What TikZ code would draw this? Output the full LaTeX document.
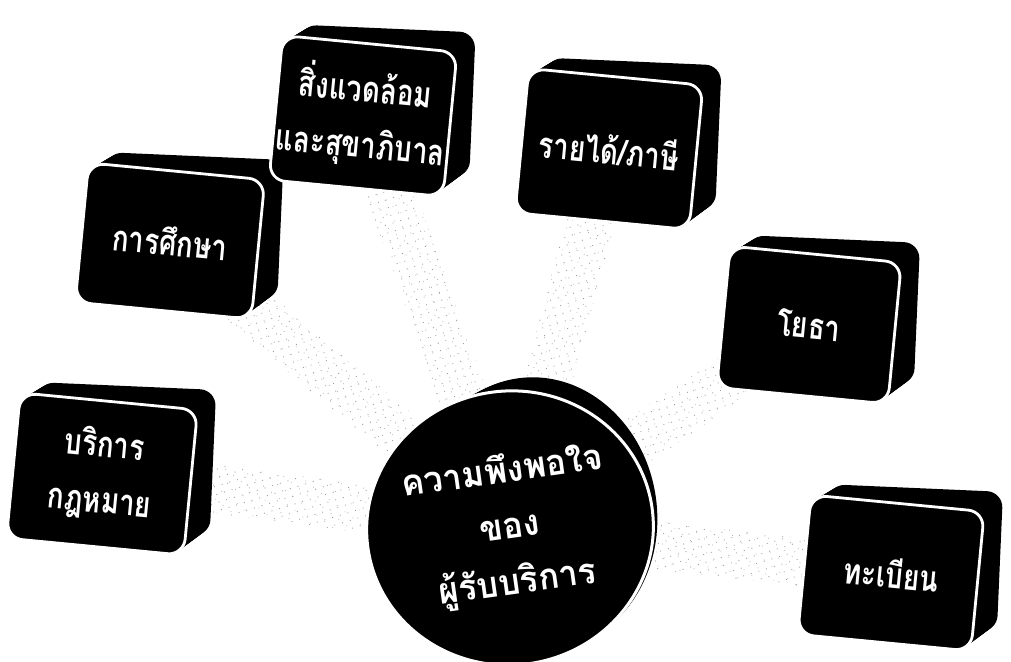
\documentclass[tikz,border=0pt]{standalone}
\usepackage{fontspec}
\newfontfamily\thaifont[Script=Thai, FakeStretch=0.77]{Loma}
\newfontfamily\thaiwide[Script=Thai, FakeStretch=0.95]{Loma}
\usetikzlibrary{shapes.geometric,calc,patterns.meta}
\pgfdeclarelayer{bg}
\pgfdeclarelayer{links}
\pgfsetlayers{bg,links,main}
\tikzset{
  thaitext/.style={text=white, align=center, font=\thaifont\bfseries\fontsize{36}{56}\selectfont},
  blockface/.style={rectangle, rounded corners=16pt, fill=black, draw=white, line width=2.8pt, inner sep=0pt, thaitext},
  blockback/.style={rectangle, rounded corners=16pt, fill=black, draw=none, inner sep=0pt},
  coreface/.style={ellipse, fill=black, draw=white, line width=3pt, inner sep=0pt, thaitext, font=\thaiwide\bfseries\fontsize{36}{56}\selectfont},
  coreback/.style={ellipse, fill=black, draw=none, inner sep=0pt},
  speckleA/.style={pattern={Dots[distance=8pt, radius=0.6pt, angle=17]}, pattern color=black!40},
  speckleB/.style={pattern={Dots[distance=10pt, radius=0.55pt, angle=-38]}, pattern color=black!30},
}
% #1 name, #2 x, #3 y, #4 width, #5 height, #6 text
\newcommand\tblock[6]{%
  \foreach \k in {0,...,16}{%
    \node[blockback, rotate={-5.5+3*\k/16}, minimum width=#4pt, minimum height=#5pt]
      (#1-b\k) at ($(#2,#3)+({22*\k/16},{-15*\k/16})$) {};
  }
  \node[blockface, rotate=-5.5, minimum width=#4pt, minimum height=#5pt] (#1) at (#2,#3) {#6};
}
\newcommand\linkband[2]{%
  \path[speckleA] ($(#1)!24pt!90:(#2)$) -- ($(#2)!24pt!-90:(#1)$) -- ($(#2)!24pt!90:(#1)$) -- ($(#1)!24pt!-90:(#2)$) -- cycle;
  \path[speckleB] ($(#1)!24pt!90:(#2)$) -- ($(#2)!24pt!-90:(#1)$) -- ($(#2)!24pt!90:(#1)$) -- ($(#1)!24pt!-90:(#2)$) -- cycle;
}
\begin{document}
\begin{tikzpicture}[x=1pt,y=-1pt]
\begin{pgfonlayer}{bg}
  \fill[white] (0,0) rectangle (1011,661);
\end{pgfonlayer}
\useasboundingbox (0,0) rectangle (1011,661);

\tblock{law}{102}{474}{178}{146}{บริการ\\กฎหมาย}
\tblock{edu}{170}{241}{177}{140}{การศึกษา}
\tblock{env}{363}{116}{175}{145}{สิ่งแวดล้อม\\และสุขาภิบาล}
\tblock{tax}{609}{149}{175}{145}{รายได้/ภาษี}
\tblock{works}{809}{325}{172}{142}{โยธา}
\tblock{reg}{891}{573}{174}{140}{ทะเบียน}

\foreach \k in {0,...,16}{%
  \node[coreback, rotate=8, minimum width=240pt, minimum height=274pt]
    (core-b\k) at ($(510,528)+({27*\k/16},{-14*\k/16})$) {};
}
\node[coreface, rotate=8, minimum width=240pt, minimum height=274pt] (core) at (510,528)
  {ความพึงพอใจ\\ของ\\ผู้รับบริการ};

\begin{pgfonlayer}{links}
  \linkband{core}{law}
  \linkband{core}{edu}
  \linkband{core}{env}
  \linkband{core}{tax}
  \linkband{core}{works}
  \linkband{core}{reg}
\end{pgfonlayer}
\end{tikzpicture}
\end{document}
